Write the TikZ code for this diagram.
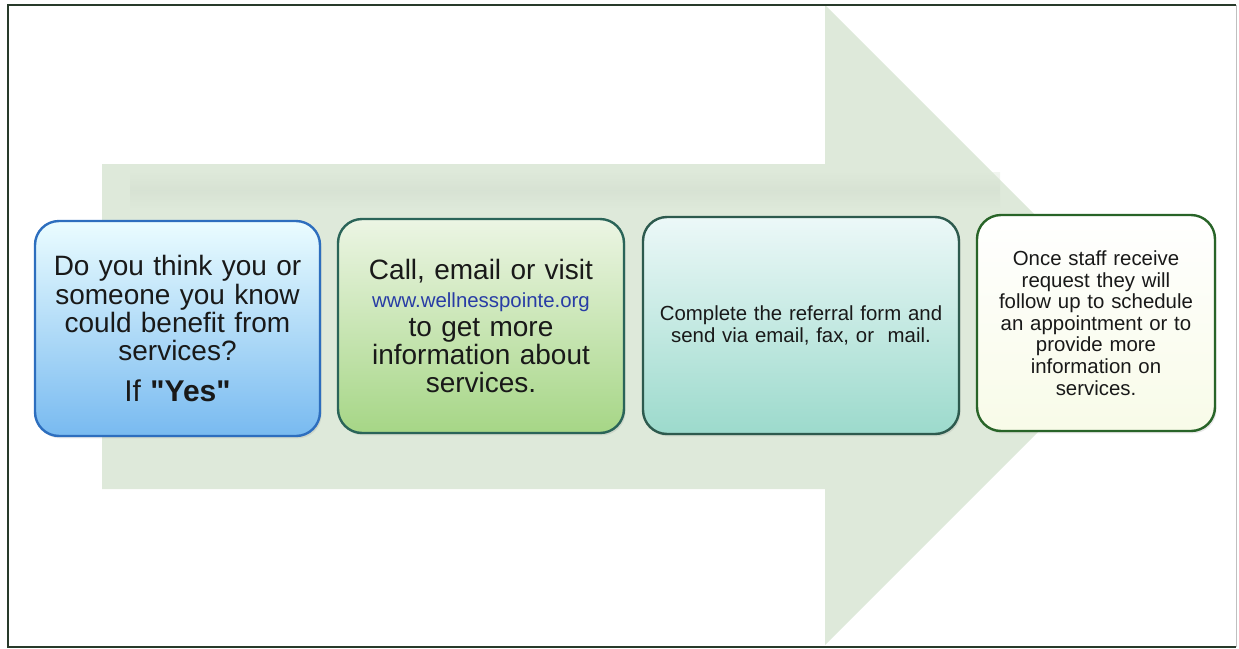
\documentclass[tikz,border=0pt]{standalone}
\usepackage{fontspec}
\setmainfont{Liberation Sans}
\usepackage{xcolor}
\usetikzlibrary{shadows}
\definecolor{arrowfill}{RGB}{222,233,218}
\definecolor{framegreen}{RGB}{40,58,42}
\definecolor{textdark}{RGB}{25,25,25}
\definecolor{urlblue}{RGB}{40,60,165}
\definecolor{blueedge}{RGB}{45,110,190}
\definecolor{tealedge}{RGB}{42,100,88}
\definecolor{seaedge}{RGB}{45,90,78}
\definecolor{greenedge}{RGB}{40,100,40}
\newcommand{\straightq}{\XeTeXglyph\XeTeXcharglyph"22\relax}

\begin{document}
\begin{tikzpicture}[x=0.5pt,y=-0.5pt,
		stepbox/.style={draw, rounded corners=12pt, line width=1.2pt, align=center, inner sep=0pt, text=textdark,
			drop shadow={opacity=0.18, shadow xshift=0.8pt, shadow yshift=-1.2pt}},
		bigtext/.style={font=\fontsize{14}{14.2}\selectfont},
		smalltext/.style={font=\fontsize{10.2}{10.8}\selectfont}]
				\useasboundingbox (0,0) rectangle (1239,649);
				
				\fill[arrowfill] (102,164) -- (825,164) -- (825,5) -- (1145,325) -- (825,645) -- (825,489) -- (102,489) -- cycle;
				\shade[top color=arrowfill, bottom color=arrowfill, middle color=arrowfill!93!black, opacity=0.4] (130,172) rectangle (1000,208);
				
				\draw[framegreen, line width=1.2pt] (1236,5) -- (8,5) -- (8,647) -- (1236,647);
				\draw[black!25, line width=0.5pt] (1236,5) -- (1236,647);
				
				\node[stepbox, bigtext, draw=blueedge, top color=blue!12!cyan!8!white, bottom color={rgb,255:red,120;green,186;blue,240},
					minimum width=142.5pt, minimum height=107.5pt, text width=136pt] (ask) at (177.5,328.5)
					{Do you think you or\\someone you know\\could benefit from\\services?\\[6pt]{\fontsize{15}{15}\selectfont If \textbf{\straightq Yes\straightq}}};
				\node[stepbox, bigtext, draw=tealedge, top color={rgb,255:red,236;green,245;blue,228}, bottom color={rgb,255:red,166;green,214;blue,134},
					minimum width=143pt, minimum height=107pt, text width=136pt] (visit) at (481,326)
					{Call, email or visit\\{\fontsize{10.2}{14.2}\selectfont\color{urlblue}www.wellnesspointe.org}\\to get more\\information about\\services.};
				\node[stepbox, smalltext, draw=seaedge, top color={rgb,255:red,236;green,248;blue,248}, bottom color={rgb,255:red,156;green,218;blue,204},
					minimum width=158pt, minimum height=108.5pt, text width=150pt] (form) at (801,325.5)
					{Complete the referral form and\\send via email, fax, or\ \ mail.};
				\node[stepbox, smalltext, draw=greenedge, top color=white, bottom color={rgb,255:red,248;green,251;blue,232},
					minimum width=119pt, minimum height=108pt, text width=112pt] (reply) at (1096,323)
					{Once staff receive\\request they will\\follow up to schedule\\an appointment or to\\provide more\\information on\\services.};
			\end{tikzpicture}
\end{document}
